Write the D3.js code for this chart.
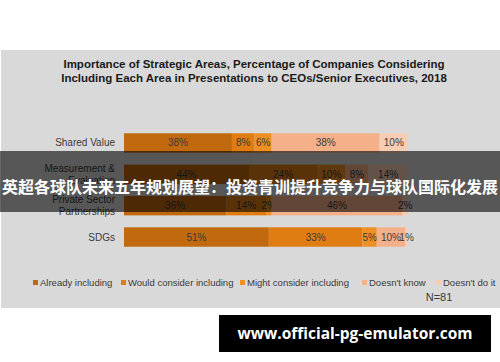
<!DOCTYPE html>
<html>
<head>
<meta charset="utf-8">
<script src="https://cdn.jsdelivr.net/npm/d3@7"></script>
<style>
  body { margin: 0; background: #fff; }
  svg { display: block; font-family: "Liberation Sans", Arial, sans-serif; }
</style>
</head>
<body>
<svg id="chart" width="500" height="362"></svg>
<script>
// data
const categories = ["Shared Value", "Measurement & Evaluation", "Private Sector Partnerships", "SDGs"];
const categoryLines = [["Shared Value"], ["Measurement &", "Evaluation"], ["Private Sector", "Partnerships"], ["SDGs"]];
const seriesNames = ["Already including", "Would consider including", "Might consider including", "Doesn't know", "Doesn't do it"];
const alreadyIncluding = [38, 44, 36, 51];
const wouldConsider = [8, 24, 14, 33];
const mightConsider = [6, 10, 2, 5];
const doesntKnow = [38, 8, 46, 10];
const doesntDoIt = [10, 14, 2, 1];
const colors = ["#c0690e", "#e07d12", "#ef9025", "#f4b189", "#f7cdb3"];

const svg = d3.select("#chart");

const
    width = 500,
    height = 362;

// grey panel
svg.append("rect")
    .attr("x", 1).attr("y", 50)
    .attr("width", 499).attr("height", 258)
    .attr("fill", "#d9d9d9");

// title
const title = svg.append("text")
    .attr("x", 254)
    .attr("y", 68)
    .attr("text-anchor", "middle")
    .attr("font-size", 11.5)
    .attr("font-weight", "bold")
    .attr("fill", "#1a1a1a");
title.append("tspan").attr("x", 254).text("Importance of Strategic Areas, Percentage of Companies Considering");
title.append("tspan").attr("x", 254).attr("dy", 14).text("Including Each Area in Presentations to CEOs/Senior Executives, 2018");

const rows = categories.map((c, i) => ({
    cat: c,
    values: [alreadyIncluding[i], wouldConsider[i], mightConsider[i], doesntKnow[i], doesntDoIt[i]]
}));

const x = d3.scaleLinear()
    .domain([0, 100])
    .range([124, 408]);

const y = d3.scaleBand()
    .domain(categories)
    .range([127, 253])
    .paddingInner(0.38)
    .paddingOuter(0.2);

const stack = d3.stack()
    .keys(d3.range(seriesNames.length))
    .value((d, k) => d.values[k]);

const layers = stack(rows);

const g = svg.append("g");

layers.forEach((layer, k) => {
    const lg = g.append("g");
    lg.selectAll("rect")
        .data(layer)
        .join("rect")
        .attr("x", d => x(d[0]))
        .attr("y", d => y(d.data.cat))
        .attr("width", d => x(d[1]) - x(d[0]))
        .attr("height", y.bandwidth())
        .attr("fill", colors[k]);
    lg.selectAll("text")
        .data(layer)
        .join("text")
        .attr("x", d => (x(d[0]) + x(d[1])) / 2)
        .attr("y", d => y(d.data.cat) + y.bandwidth() / 2 + 3.5)
        .attr("text-anchor", "middle")
        .attr("font-size", 10)
        .attr("fill", "#3a3a3a")
        .text(d => (d[1] - d[0]) + "%");
});

// category labels
categories.forEach((c, i) => {
    const lines = categoryLines[i];
    const cy = y(c) + y.bandwidth() / 2;
    const t = svg.append("text")
        .attr("text-anchor", "end")
        .attr("font-size", 10)
        .attr("fill", "#3a3a3a");
    lines.forEach((ln, j) => {
        t.append("tspan")
            .attr("x", 115)
            .attr("y", cy + 3.5 + (j - (lines.length - 1) / 2) * 11.5)
            .text(ln);
    });
});

// legend
const legendX = [33, 121, 240, 362, 436];
const legend = svg.append("g");
seriesNames.forEach((s, i) => {
    legend.append("rect")
        .attr("x", legendX[i]).attr("y", 280)
        .attr("width", 5).attr("height", 5)
        .attr("fill", colors[i]);
    legend.append("text")
        .attr("x", legendX[i] + 7)
        .attr("y", 286)
        .attr("font-size", 9.5)
        .attr("fill", "#3a3a3a")
        .text(s);
});

svg.append("text")
    .attr("x", 439)
    .attr("y", 301)
    .attr("text-anchor", "middle")
    .attr("font-size", 11)
    .attr("fill", "#3a3a3a")
    .text("N=81");

// banner overlay
svg.append("rect")
    .attr("x", 0).attr("y", 151)
    .attr("width", width).attr("height", 61)
    .attr("fill", "#000")
    .attr("fill-opacity", 0.6);

svg.append("text")
    .attr("x", 250)
    .attr("y", 193)
    .attr("text-anchor", "middle")
    .attr("font-family", "'Noto Sans CJK SC', sans-serif")
    .attr("font-size", 16)
    .attr("font-weight", "bold")
    .attr("fill", "#fff")
    .text("英超各球队未来五年规划展望：投资青训提升竞争力与球队国际化发展");

// url box
svg.append("rect")
    .attr("x", 219).attr("y", 315)
    .attr("width", 272).attr("height", 37)
    .attr("fill", "#000");

svg.append("text")
    .attr("x", 355)
    .attr("y", 339)
    .attr("text-anchor", "middle")
    .attr("font-family", "'Open Sans', sans-serif")
    .attr("font-size", 15.5)
    .attr("font-weight", "bold")
    .attr("fill", "#fff")
    .text("www.official-pg-emulator.com");
</script>
</body>
</html>
